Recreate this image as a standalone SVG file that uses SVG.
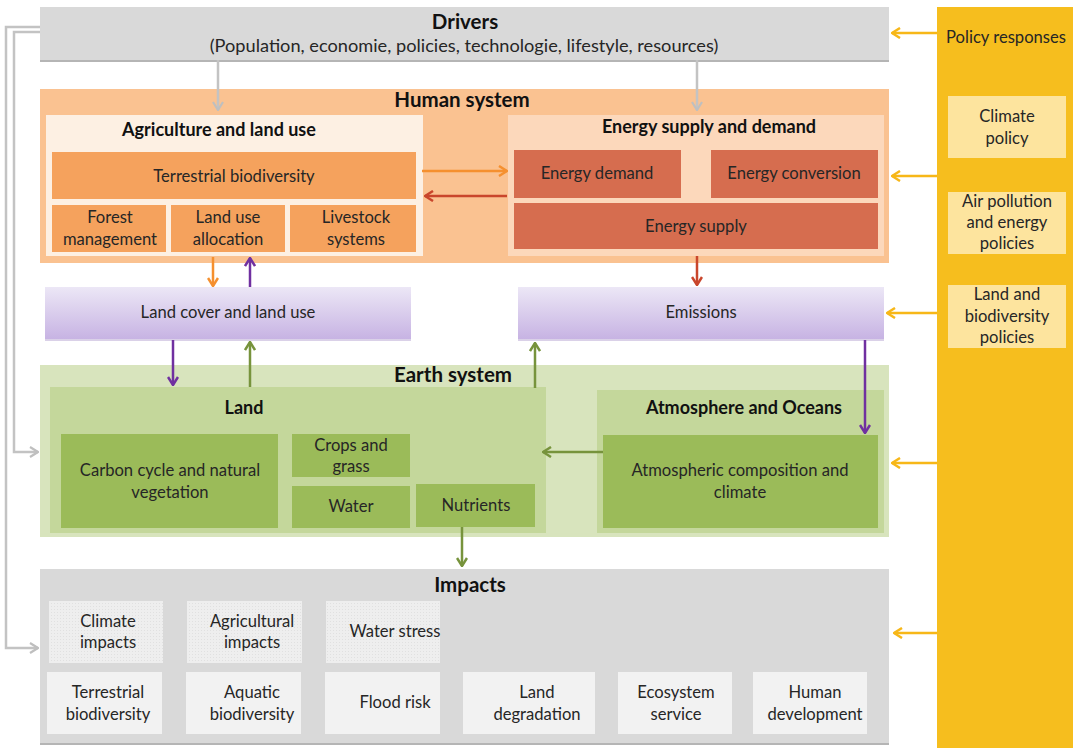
<svg xmlns="http://www.w3.org/2000/svg" width="1073" height="748" viewBox="0 0 1073 748">
<style>
text{font-family:Lato,"Open Sans",sans-serif;fill:#262626;font-size:16.6px;text-anchor:middle}
.t{font-weight:bold;fill:#111;font-size:18px}
.big{font-weight:bold;fill:#111;font-size:20.5px}
.gray{fill:#d9d9d9}
.shadow{fill:#b5b5b5}
.orange{fill:#f5a25d}
.red{fill:#d66d4f}
.green{fill:#9bbb59}
.lgreen{fill:#c4d79b}
.pol{fill:#fde49e}
.imp1{fill:url(#dots)}
.imp2{fill:#f2f2f2}
.c{fill:none;stroke-width:2.5}
</style>
<defs>
<linearGradient id="lav" x1="0" y1="0" x2="0" y2="1">
<stop offset="0" stop-color="#ece7f6"/>
<stop offset="1" stop-color="#c7b3e3"/>
</linearGradient>
<pattern id="dots" width="3" height="3" patternUnits="userSpaceOnUse">
<rect width="3" height="3" fill="#eeeeee"/>
<rect width="1" height="1" fill="#e0e0e0"/>
</pattern>
<marker id="aGray" viewBox="0 0 12 12" refX="11" refY="6" markerWidth="12" markerHeight="12" markerUnits="userSpaceOnUse" orient="auto"><path d="M3,1 L11,6 L3,11" fill="none" stroke="#bfbfbf" stroke-width="2.2"/></marker>
<marker id="aOrange" viewBox="0 0 12 12" refX="11" refY="6" markerWidth="12" markerHeight="12" markerUnits="userSpaceOnUse" orient="auto"><path d="M3,1 L11,6 L3,11" fill="none" stroke="#f5902f" stroke-width="2.5"/></marker>
<marker id="aRed" viewBox="0 0 12 12" refX="11" refY="6" markerWidth="12" markerHeight="12" markerUnits="userSpaceOnUse" orient="auto"><path d="M3,1 L11,6 L3,11" fill="none" stroke="#c9462c" stroke-width="2.5"/></marker>
<marker id="aPurple" viewBox="0 0 12 12" refX="11" refY="6" markerWidth="12" markerHeight="12" markerUnits="userSpaceOnUse" orient="auto"><path d="M3,1 L11,6 L3,11" fill="none" stroke="#7030a0" stroke-width="2.5"/></marker>
<marker id="aGreen" viewBox="0 0 12 12" refX="11" refY="6" markerWidth="12" markerHeight="12" markerUnits="userSpaceOnUse" orient="auto"><path d="M3,1 L11,6 L3,11" fill="none" stroke="#77933c" stroke-width="2.5"/></marker>
<marker id="aYellow" viewBox="0 0 12 12" refX="11" refY="6" markerWidth="12" markerHeight="12" markerUnits="userSpaceOnUse" orient="auto"><path d="M3,1 L11,6 L3,11" fill="none" stroke="#f7b718" stroke-width="2.5"/></marker>
</defs>
<rect width="1073" height="748" fill="#ffffff"/>

<g id="policy">
<rect x="937" y="7" width="136" height="741" fill="#f6be1e"/>
<text x="1006" y="43">Policy responses</text>
</g>
<g id="climate-policy">
<rect class="pol" x="948" y="96" width="118" height="62"/>
<text x="1007" y="122">Climate</text><text x="1007" y="144">policy</text>
</g>
<g id="air-policy">
<rect class="pol" x="948" y="192" width="118" height="62"/>
<text x="1007" y="207">Air pollution</text><text x="1007" y="228">and energy</text><text x="1007" y="249">policies</text>
</g>
<g id="land-policy">
<rect class="pol" x="948" y="285" width="118" height="63"/>
<text x="1007" y="300">Land and</text><text x="1007" y="322">biodiversity</text><text x="1007" y="343">policies</text>
</g>

<g id="drivers">
<rect class="shadow" x="40" y="9" width="849" height="53"/>
<rect class="gray" x="40" y="7" width="849" height="53"/>
<text class="big" x="465" y="29">Drivers</text>
<text x="464" y="52" style="font-size:18.2px">(Population, economie, policies, technologie, lifestyle, resources)</text>
</g>

<g id="human-system">
<rect x="40" y="89" width="849" height="174" fill="#fac291"/>
<text class="big" x="462" y="107">Human system</text>
</g>
<g id="agriculture">
<rect x="46" y="115" width="377" height="141" fill="#fdf0e3"/>
<text class="t" x="219" y="136">Agriculture and land use</text>
</g>
<g id="terrestrial-biodiversity">
<rect class="orange" x="52" y="152" width="364" height="47"/>
<text x="234" y="182">Terrestrial biodiversity</text>
</g>
<g id="forest">
<rect class="orange" x="52" y="205" width="114" height="47"/>
<text x="110" y="223">Forest</text><text x="110" y="245">management</text>
</g>
<g id="land-use-allocation">
<rect class="orange" x="171" y="205" width="114" height="47"/>
<text x="228" y="223">Land use</text><text x="228" y="245">allocation</text>
</g>
<g id="livestock">
<rect class="orange" x="290" y="205" width="126" height="47"/>
<text x="356" y="223">Livestock</text><text x="356" y="245">systems</text>
</g>
<g id="energy">
<rect x="508" y="115" width="376" height="141" fill="#fcd8bb"/>
<text class="t" x="709" y="133">Energy supply and demand</text>
</g>
<g id="energy-demand">
<rect class="red" x="514" y="150" width="167" height="48"/>
<text x="597" y="179">Energy demand</text>
</g>
<g id="energy-conversion">
<rect class="red" x="711" y="150" width="167" height="48"/>
<text x="794" y="179">Energy conversion</text>
</g>
<g id="energy-supply">
<rect class="red" x="514" y="203" width="364" height="46"/>
<text x="696" y="232">Energy supply</text>
</g>

<g id="land-cover">
<rect x="45" y="289" width="366" height="52" fill="#c2b3d8" opacity="0.6"/>
<rect x="45" y="287" width="366" height="52" fill="url(#lav)"/>
<text x="228" y="318">Land cover and land use</text>
</g>
<g id="emissions">
<rect x="518" y="289" width="366" height="52" fill="#c2b3d8" opacity="0.6"/>
<rect x="518" y="287" width="366" height="52" fill="url(#lav)"/>
<text x="701" y="318">Emissions</text>
</g>

<g id="earth-system">
<rect x="40" y="365" width="849" height="172" fill="#d8e4bd"/>
<text class="big" x="453" y="382">Earth system</text>
</g>
<g id="land">
<rect class="lgreen" x="50" y="387" width="496" height="146"/>
<text class="t" x="244" y="414">Land</text>
</g>
<g id="carbon-cycle">
<rect class="green" x="61" y="434" width="217" height="94"/>
<text x="170" y="476">Carbon cycle and natural</text><text x="170" y="498">vegetation</text>
</g>
<g id="crops">
<rect class="green" x="292" y="434" width="118" height="43"/>
<text x="351" y="451">Crops and</text><text x="351" y="472">grass</text>
</g>
<g id="water">
<rect class="green" x="292" y="486" width="118" height="42"/>
<text x="351" y="512">Water</text>
</g>
<g id="nutrients">
<rect class="green" x="416" y="484" width="119" height="43"/>
<text x="476" y="511">Nutrients</text>
</g>
<g id="atmosphere">
<rect class="lgreen" x="597" y="390" width="287" height="143"/>
<text class="t" x="744" y="414">Atmosphere and Oceans</text>
</g>
<g id="atmospheric-composition">
<rect class="green" x="603" y="435" width="275" height="93"/>
<text x="740" y="476">Atmospheric composition and</text><text x="740" y="498">climate</text>
</g>

<g id="impacts">
<rect class="shadow" x="40" y="572" width="849" height="173"/>
<rect class="gray" x="40" y="569" width="849" height="174"/>
<text class="big" x="470" y="592">Impacts</text>
</g>
<g id="climate-impacts"><rect class="imp1" x="49" y="601" width="114" height="62"/><text x="108" y="627">Climate</text><text x="108" y="648">impacts</text></g>
<g id="agricultural-impacts"><rect class="imp1" x="187" y="601" width="115" height="62"/><text x="252" y="627">Agricultural</text><text x="252" y="648">impacts</text></g>
<g id="water-stress"><rect class="imp1" x="326" y="601" width="114" height="62"/><text x="395" y="637">Water stress</text></g>
<g id="terr-bio-impact"><rect class="imp2" x="47" y="672" width="115" height="62"/><text x="108" y="698">Terrestrial</text><text x="108" y="720">biodiversity</text></g>
<g id="aquatic-bio"><rect class="imp2" x="186" y="672" width="115" height="62"/><text x="252" y="698">Aquatic</text><text x="252" y="720">biodiversity</text></g>
<g id="flood-risk"><rect class="imp2" x="325" y="672" width="115" height="62"/><text x="395" y="708">Flood risk</text></g>
<g id="land-degradation"><rect class="imp2" x="463" y="672" width="132" height="62"/><text x="537" y="698">Land</text><text x="537" y="720">degradation</text></g>
<g id="ecosystem-service"><rect class="imp2" x="618" y="672" width="114" height="62"/><text x="676" y="698">Ecosystem</text><text x="676" y="720">service</text></g>
<g id="human-development"><rect class="imp2" x="753" y="672" width="114" height="62"/><text x="815" y="698">Human</text><text x="815" y="720">development</text></g>

<g id="connectors">
<path class="c" d="M40,27 H6 V648 H38" stroke="#c3c3c3" stroke-width="2.2" marker-end="url(#aGray)"/>
<path class="c" d="M40,32 H14 V452 H38" stroke="#c3c3c3" stroke-width="2.2" marker-end="url(#aGray)"/>
<path class="c" d="M218,60 V110" stroke="#c3c3c3" stroke-width="2.2" marker-end="url(#aGray)"/>
<path class="c" d="M697,60 V110" stroke="#c3c3c3" stroke-width="2.2" marker-end="url(#aGray)"/>
<path class="c" d="M422,171 H507" stroke="#f5902f" marker-end="url(#aOrange)"/>
<path class="c" d="M507,196 H425" stroke="#c9462c" marker-end="url(#aRed)"/>
<path class="c" d="M213,257 V286" stroke="#f5902f" marker-end="url(#aOrange)"/>
<path class="c" d="M250,287 V258" stroke="#7030a0" marker-end="url(#aPurple)"/>
<path class="c" d="M697,256 V285" stroke="#c9462c" marker-end="url(#aRed)"/>
<path class="c" d="M173,340 V385" stroke="#7030a0" marker-end="url(#aPurple)"/>
<path class="c" d="M250,387 V342" stroke="#77933c" marker-end="url(#aGreen)"/>
<path class="c" d="M535,388 V343" stroke="#77933c" marker-end="url(#aGreen)"/>
<path class="c" d="M865,340 V433" stroke="#7030a0" marker-end="url(#aPurple)"/>
<path class="c" d="M603,452 H543" stroke="#77933c" marker-end="url(#aGreen)"/>
<path class="c" d="M462,527 V566" stroke="#77933c" marker-end="url(#aGreen)"/>
<path class="c" d="M937,33 H892" stroke="#f7b718" marker-end="url(#aYellow)"/>
<path class="c" d="M937,176 H892" stroke="#f7b718" marker-end="url(#aYellow)"/>
<path class="c" d="M937,313 H887" stroke="#f7b718" marker-end="url(#aYellow)"/>
<path class="c" d="M937,463 H892" stroke="#f7b718" marker-end="url(#aYellow)"/>
<path class="c" d="M937,633 H894" stroke="#f7b718" marker-end="url(#aYellow)"/>
</g>
</svg>
